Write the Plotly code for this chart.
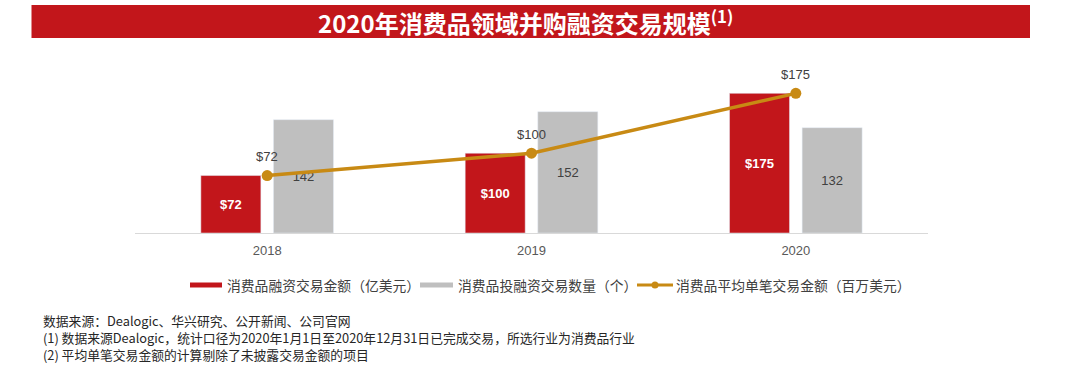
import plotly.graph_objects as go

# ---------------- data ----------------
years = ["2018", "2019", "2020"]
financing_amount = [72, 100, 175]          # 消费品融资交易金额（亿美元）
deal_count = [142, 152, 132]               # 消费品投融资交易数量（个）
avg_deal_size = [72, 100, 175]             # 消费品平均单笔交易金额（百万美元）

amount_labels = ["$72", "$100", "$175"]
count_labels = ["142", "152", "132"]
avg_labels = ["$72", "$100", "$175"]

series_names = ["消费品融资交易金额（亿美元）", "消费品投融资交易数量（个）", "消费品平均单笔交易金额（百万美元）"]
title_text = "2020年消费品领域并购融资交易规模"
notes = [
    "数据来源：Dealogic、华兴研究、公开新闻、公司官网",
    "(1) 数据来源Dealogic，统计口径为2020年1月1日至2020年12月31日已完成交易，所选行业为消费品行业",
    "(2) 平均单笔交易金额的计算剔除了未披露交易金额的项目",
]

# ---------------- style ----------------
RED = "#C2161B"
GREY = "#BFBFBF"
GOLD = "#C88A14"
TXT = "#404040"
LAT = "Liberation Sans, Arial, sans-serif"
CJK = "Noto Sans CJK SC, sans-serif"

W, H = 1080, 366
L, R, T, B = 135, 152, 60, 133
PW, PH = W - L - R, H - T - B


def px(x):
    return (x - L) / PW


def py(y):
    return (H - B - y) / PH


fig = go.Figure()
fig.add_trace(go.Bar(
    x=years, y=financing_amount, name=series_names[0], marker_color=RED,
    text=amount_labels, textposition="inside", insidetextanchor="middle",
    textangle=0, constraintext="none",
    textfont=dict(color="white", size=13, family=LAT, weight="bold"),
))
fig.add_trace(go.Bar(
    x=years, y=deal_count, name=series_names[1], marker_color=GREY,
    text=count_labels, textposition="inside", insidetextanchor="middle",
    textangle=0, constraintext="none",
    textfont=dict(color=TXT, size=13, family=LAT),
))
fig.add_trace(go.Scatter(
    x=years, y=avg_deal_size, name=series_names[2], mode="lines+markers",
    line=dict(color=GOLD, width=3.5), marker=dict(color=GOLD, size=11),
))

annotations = []
for i, (v, lab) in enumerate(zip(avg_deal_size, avg_labels)):
    annotations.append(dict(x=i, y=v, xref="x", yref="y", text=lab, showarrow=False,
                            yshift=19, font=dict(size=13, color=TXT, family=LAT)))

shapes = []
# title band
shapes.append(dict(type="rect", xref="paper", yref="paper", x0=px(31.5), x1=px(1030),
                   y0=py(38), y1=py(5), fillcolor=RED, line=dict(width=0), layer="below"))
annotations.append(dict(xref="paper", yref="paper", x=px(525), y=py(21.5), xanchor="center", yanchor="middle",
                        text="<b>" + title_text + "<sup>(1)</sup></b>", showarrow=False,
                        font=dict(size=24, color="white", family=CJK)))

# legend (manual)
ly = 285
shapes.append(dict(type="rect", xref="paper", yref="paper", x0=px(190), x1=px(222),
                   y0=py(ly + 2.5), y1=py(ly - 2.5), fillcolor=RED, line=dict(width=0)))
shapes.append(dict(type="rect", xref="paper", yref="paper", x0=px(420), x1=px(453),
                   y0=py(ly + 2.5), y1=py(ly - 2.5), fillcolor=GREY, line=dict(width=0)))
shapes.append(dict(type="line", xref="paper", yref="paper", x0=px(637), x1=px(673),
                   y0=py(ly), y1=py(ly), line=dict(color=GOLD, width=3)))
shapes.append(dict(type="circle", xref="paper", yref="paper", x0=px(651.5), x1=px(658.5),
                   y0=py(ly + 3.5), y1=py(ly - 3.5), fillcolor=GOLD, line=dict(width=0)))
for xpos, name in zip([225, 456, 674], series_names):
    annotations.append(dict(xref="paper", yref="paper", x=px(xpos), y=py(ly), xanchor="left", yanchor="middle",
                            text=name, showarrow=False, font=dict(size=13.8, color=TXT, family=CJK)))

# notes
for i, line in enumerate(notes):
    annotations.append(dict(xref="paper", yref="paper", x=px(42), y=py(320 + 17.4 * i), xanchor="left",
                            yanchor="middle", text=line, showarrow=False, borderpad=0,
                            font=dict(size=12.8, color="#262626", family=CJK)))

fig.update_layout(
    width=W, height=H,
    margin=dict(l=L, r=R, t=T, b=B),
    paper_bgcolor="white", plot_bgcolor="white",
    barmode="group", bargap=0.4506, bargroupgap=0.1736,
    showlegend=False,
    hovermode=False,
    xaxis=dict(type="category", range=[-0.5, 2.5], autorange=False, showline=True,
               linecolor="#D9D9D9", linewidth=1, ticks="", ticklabelstandoff=5,
               showgrid=False, zeroline=False,
               tickfont=dict(size=13, color="#595959", family=LAT)),
    yaxis=dict(range=[0, PH / 0.798], autorange=False, visible=False, showgrid=False, zeroline=False),
    shapes=shapes,
    annotations=annotations,
)

fig.write_html("out.html", config={"displayModeBar": False},
               post_script="document.body.style.margin='0';")
